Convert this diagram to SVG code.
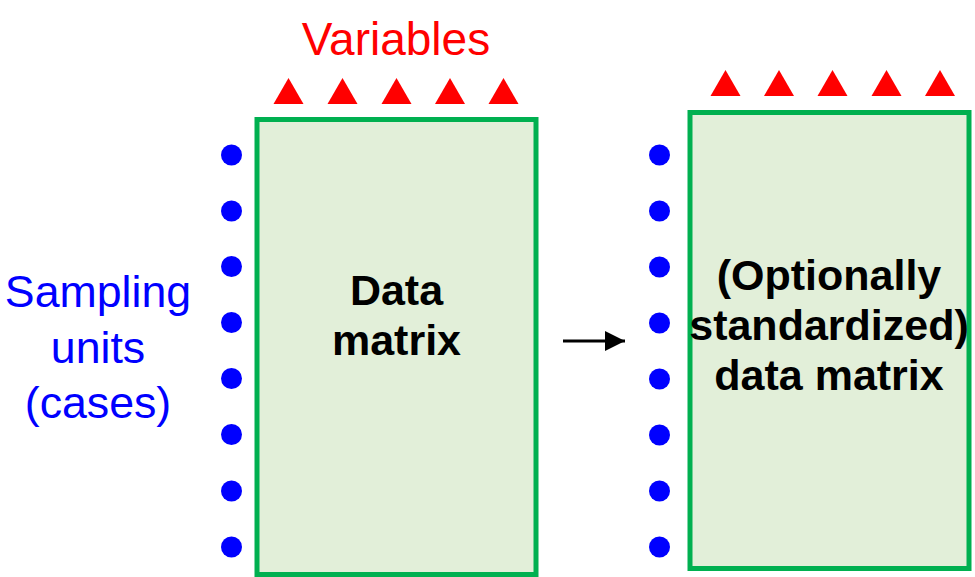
<svg xmlns="http://www.w3.org/2000/svg" width="975" height="577" viewBox="0 0 975 577">
<defs>
<style>
.box{fill:#e2efd9;stroke:#00b050;stroke-width:5}
.dot{fill:#0000ff}
.tri{fill:#ff0000}
.lbl{font-family:"Liberation Sans",Arial,sans-serif;text-anchor:middle}
.bold{font-weight:bold;font-size:43px;fill:#000}
</style>
<marker id="ah" markerWidth="20" markerHeight="20" refX="20" refY="10" orient="auto" markerUnits="userSpaceOnUse">
<path d="M0,0 L20,10 L0,20 Z" fill="#000"/>
</marker>
</defs>
<text class="lbl" x="396" y="55" font-size="46" fill="#ff0000">Variables</text>
<g id="cases-label">
<text class="lbl" font-size="44.7" fill="#0000ff"><tspan x="98" y="307">Sampling</tspan><tspan x="98" y="363">units</tspan><tspan x="98" y="418">(cases)</tspan></text>
</g>
<g id="data-matrix">
<rect class="box" x="257" y="119.5" width="279" height="455"/>
<text class="lbl bold"><tspan x="396.5" y="305">Data</tspan><tspan x="396.5" y="355">matrix</tspan></text>
<g class="tri">
<polygon points="273.5,104 288.5,78 303.5,104"/>
<polygon points="327.5,104 342.5,78 357.5,104"/>
<polygon points="381.5,104 396.5,78 411.5,104"/>
<polygon points="435,104 450,78 465,104"/>
<polygon points="488.5,104 503.5,78 518.5,104"/>
</g>
<g class="dot">
<circle cx="231.5" cy="155" r="10.5"/>
<circle cx="231.5" cy="211" r="10.5"/>
<circle cx="231.5" cy="266.5" r="10.5"/>
<circle cx="231.5" cy="322.5" r="10.5"/>
<circle cx="231.5" cy="378.5" r="10.5"/>
<circle cx="231.5" cy="434.5" r="10.5"/>
<circle cx="231.5" cy="491" r="10.5"/>
<circle cx="231.5" cy="547" r="10.5"/>
</g>
</g>
<g id="std-matrix">
<rect class="box" x="690" y="112.5" width="279" height="456"/>
<text class="lbl bold"><tspan x="829" y="290">(Optionally</tspan><tspan x="829" y="340">standardized)</tspan><tspan x="829" y="390">data matrix</tspan></text>
<g class="tri">
<polygon points="710.5,96 725.5,70 740.5,96"/>
<polygon points="764,96 779,70 794,96"/>
<polygon points="817.5,96 832.5,70 847.5,96"/>
<polygon points="871.5,96 886.5,70 901.5,96"/>
<polygon points="925,96 940,70 955,96"/>
</g>
<g class="dot">
<circle cx="659.5" cy="155" r="10.5"/>
<circle cx="659.5" cy="211" r="10.5"/>
<circle cx="659.5" cy="267" r="10.5"/>
<circle cx="659.5" cy="323" r="10.5"/>
<circle cx="659.5" cy="379" r="10.5"/>
<circle cx="659.5" cy="435" r="10.5"/>
<circle cx="659.5" cy="491" r="10.5"/>
<circle cx="659.5" cy="547" r="10.5"/>
</g>
</g>
<g id="connectors">
<line x1="563" y1="341" x2="625" y2="341" stroke="#000" stroke-width="3" marker-end="url(#ah)"/>
</g>
</svg>
